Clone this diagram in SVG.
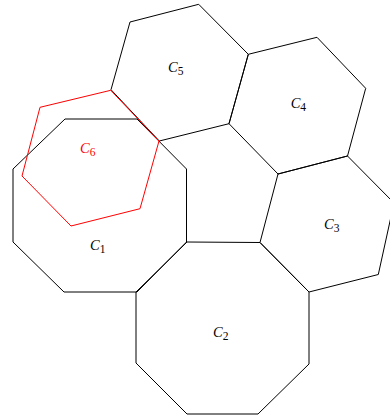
<svg xmlns="http://www.w3.org/2000/svg" width="390" height="415" viewBox="0 0 390 415">
<style>
.cell{fill:none;stroke:#000;stroke-width:1;stroke-linejoin:miter}
.red{stroke:#ff0000}
.lbl{font-family:"Liberation Serif","Times New Roman",serif;font-size:14.5px;fill:#000}
.lbl .v{font-style:italic}
.lbl .s{font-size:11.5px}
.redt{fill:#ff0000}
</style>
<rect width="390" height="415" fill="#fff"/>
<g id="C1">
<polygon class="cell" points="65,119 137,119 186.5,169 186.5,242 137,292 64,292 13,242 13,169"/>
<text class="lbl" x="90" y="250"><tspan class="v">C</tspan><tspan class="s" dy="3">1</tspan></text>
</g>
<g id="C2">
<polygon class="cell" points="187,242 260,242.5 309,292 309,364 258,414 187,414 136,363 136,292"/>
<text class="lbl" x="213" y="336.7"><tspan class="v">C</tspan><tspan class="s" dy="3">2</tspan></text>
</g>
<g id="C3">
<polygon class="cell" points="260,242.5 278,174 347.5,156 394,203 378.3,274.5 309,292"/>
<text class="lbl" x="324" y="229.3"><tspan class="v">C</tspan><tspan class="s" dy="3">3</tspan></text>
</g>
<g id="C4">
<polygon class="cell" points="248.3,54.3 317,37.3 365.7,88.3 347.5,156 278,174 229,123.7"/>
<text class="lbl" x="290.7" y="108.3"><tspan class="v">C</tspan><tspan class="s" dy="3">4</tspan></text>
</g>
<g id="C5">
<polygon class="cell" points="130,22 198.7,4.3 248.3,54.3 229,123.7 159.3,141 111,89.7"/>
<text class="lbl" x="168" y="71.7"><tspan class="v">C</tspan><tspan class="s" dy="3">5</tspan></text>
</g>
<g id="C6">
<polygon class="cell red" points="40,107.3 110.7,90.3 159,141 140,208.7 71,226 22,176"/>
<text class="lbl redt" x="80" y="152.7"><tspan class="v">C</tspan><tspan class="s" dy="3">6</tspan></text>
</g>
<g id="connectors"></g>
</svg>
